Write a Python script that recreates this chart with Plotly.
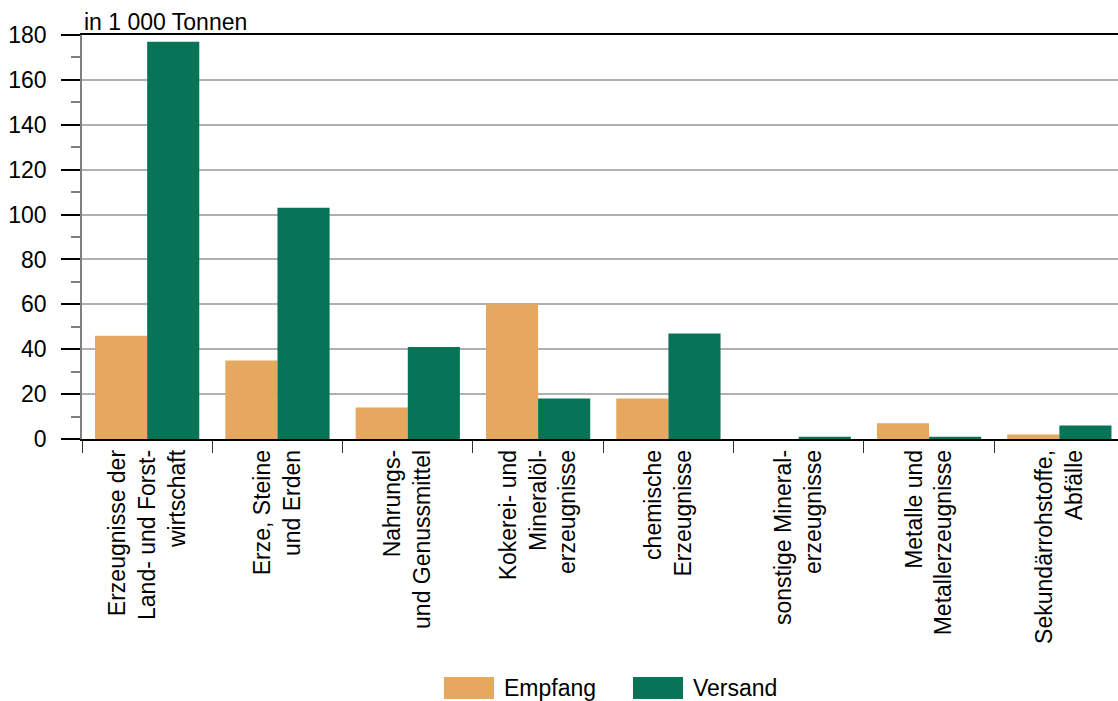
import plotly.graph_objects as go

categories = [
    "Erzeugnisse der<br>Land- und Forst-<br>wirtschaft",
    "Erze, Steine<br>und Erden",
    "Nahrungs-<br>und Genussmittel",
    "Kokerei- und<br>Mineralöl-<br>erzeugnisse",
    "chemische<br>Erzeugnisse",
    "sonstige Mineral-<br>erzeugnisse",
    "Metalle und<br>Metallerzeugnisse",
    "Sekundärrohstoffe,<br>Abfälle",
]
empfang = [46, 35, 14, 60, 18, 0, 7, 2]
versand = [177, 103, 41, 18, 47, 1, 1, 6]
series_names = ["Empfang", "Versand"]
y_ticks = [0, 20, 40, 60, 80, 100, 120, 140, 160, 180]
y_title = "in 1 000 Tonnen"

C_EMP = "#E6A75E"
C_VER = "#077458"
FONT = "Liberation Sans, Arial, sans-serif"
FS = 23

fig = go.Figure()
fig.add_trace(go.Bar(x=categories, y=empfang, name=series_names[0],
                     marker=dict(color=C_EMP, line=dict(width=0)), showlegend=False))
fig.add_trace(go.Bar(x=categories, y=versand, name=series_names[1],
                     marker=dict(color=C_VER, line=dict(width=0)), showlegend=False))

L, R, T, B = 82, 0, 35, 262
W, H = 1118, 701
pw, ph = W - L - R, H - T - B

fig.update_layout(
    width=W, height=H,
    margin=dict(l=L, r=R, t=T, b=B, pad=0),
    paper_bgcolor="white", plot_bgcolor="white",
    barmode="group", bargap=0.2, bargroupgap=0,
    font=dict(family=FONT, size=FS, color="black"),
    showlegend=False,
)
fig.update_xaxes(
    type="category",
    range=[-0.5, 7.45],
    tickangle=-90,
    tickson="boundaries",
    ticks="outside", ticklen=12, tickwidth=1, tickcolor="#333333",
    showline=True, linecolor="black", linewidth=1.5, mirror=True,
    showgrid=False,
    tickfont=dict(family=FONT, size=FS, color="black"),
)
fig.update_yaxes(
    range=[0, 180],
    tickvals=y_ticks,
    ticks="outside", ticklen=19, tickwidth=1.5, tickcolor="black",
    minor=dict(dtick=10, ticks="outside", ticklen=9, tickwidth=1.5,
               tickcolor="#7f7f7f", showgrid=False),
    showline=True, linecolor="#7f7f7f", linewidth=1.5,
    showgrid=True, gridcolor="#B0B0B0", gridwidth=1.5,
    zeroline=False,
    ticklabelstandoff=10,
    tickfont=dict(family=FONT, size=FS, color="black"),
)

fig.add_annotation(text=y_title, xref="paper", yref="paper", x=0, y=1,
                   xanchor="left", yanchor="bottom", showarrow=False,
                   font=dict(family=FONT, size=FS, color="black"), yshift=-2)

# legend drawn manually with large swatches
def px_x(v):
    return (v - L) / pw

def px_y(v):
    return (H - B - v) / ph

legend_items = [(series_names[0], C_EMP, 444, 502), (series_names[1], C_VER, 633, 691)]
for name, col, sx, tx in legend_items:
    fig.add_shape(type="rect", xref="paper", yref="paper",
                  x0=px_x(sx), x1=px_x(sx + 50), y0=px_y(699), y1=px_y(677),
                  fillcolor=col, line=dict(width=0))
    fig.add_annotation(text=name, xref="paper", yref="paper",
                       x=px_x(tx), y=px_y(688), xanchor="left", yanchor="middle",
                       showarrow=False, font=dict(family=FONT, size=FS, color="black"))

fig.write_html(
    "out.html",
    config={"displayModeBar": False},
    post_script="document.body.style.margin='0';document.body.style.overflow='hidden';",
)
